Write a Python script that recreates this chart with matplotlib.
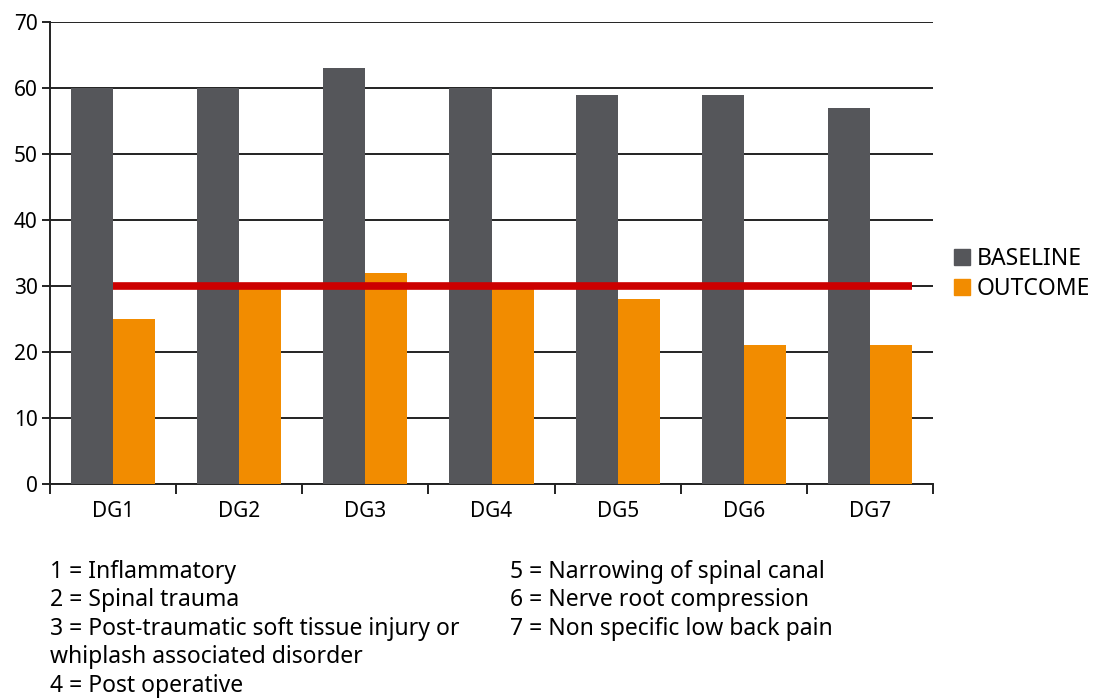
import numpy as np
import matplotlib
matplotlib.use("Agg")
import matplotlib.pyplot as plt
from matplotlib.patches import Patch

groups = ["DG1", "DG2", "DG3", "DG4", "DG5", "DG6", "DG7"]
baseline = [60, 60, 63, 60, 59, 59, 57]
outcome = [25, 30, 32, 30, 28, 21, 21]
threshold = 30

notes_left = ["1 = Inflammatory",
              "2 = Spinal trauma",
              "3 = Post-traumatic soft tissue injury or",
              "whiplash associated disorder",
              "4 = Post operative"]
notes_right = ["5 = Narrowing of spinal canal",
               "6 = Nerve root compression",
               "7 = Non specific low back pain"]

plt.rcParams['font.family'] = ['Noto Sans', 'DejaVu Sans']
grey = "#55565a"
orange = "#f28c00"

fig = plt.figure(figsize=(11, 6.98), dpi=100)
ax = fig.add_axes([0.0455, 0.3066, 0.8027, 0.6619])

x = np.arange(len(groups))
w = 1 / 3
ax.bar(x - w / 2, baseline, w, color=grey, zorder=3)
ax.bar(x + w / 2, outcome, w, color=orange, zorder=3)
ax.plot([x[0], x[-1] + w], [threshold, threshold], color="#cc0000", lw=5.5,
        solid_capstyle="butt", zorder=4)

ax.set_xlim(-0.5, len(groups) - 0.5)
ax.set_ylim(0, 70)
ax.set_yticks(range(0, 71, 10))
ax.yaxis.grid(True, color="#222222", lw=1.4, zorder=1)
ax.set_xticks(x)
ax.set_xticklabels(groups)
ax.set_xticks(np.arange(-0.5, len(groups)), minor=True)
ax.tick_params(axis="x", which="major", length=0, pad=12, labelsize=15)
ax.tick_params(axis="x", which="minor", length=7, width=1.4, color="#222222")
ax.tick_params(axis="y", length=6, width=1.4, color="#222222", labelsize=15, pad=3)
for s in ["top", "right"]:
    ax.spines[s].set_visible(False)
for s in ["left", "bottom"]:
    ax.spines[s].set_color("#222222")
    ax.spines[s].set_linewidth(1.4)

handles = [Patch(color=grey, label="BASELINE"), Patch(color=orange, label="OUTCOME")]
fig.legend(handles=handles, loc="center left", bbox_to_anchor=(0.867, 0.607),
           frameon=False, fontsize=16.5, handlelength=0.7, handleheight=0.7,
           handletextpad=0.3, labelspacing=0.25, borderaxespad=0, borderpad=0)

ys = [572, 600, 629, 657, 686]
for t, yy in zip(notes_left, ys):
    fig.text(50 / 1100, 1 - yy / 698, t, fontsize=16.5, va="center", ha="left")
for t, yy in zip(notes_right, ys):
    fig.text(510 / 1100, 1 - yy / 698, t, fontsize=16.5, va="center", ha="left")

fig.savefig("out.png", dpi=100)
